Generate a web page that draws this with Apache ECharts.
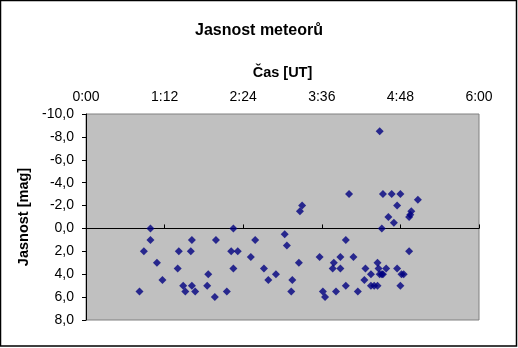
<!DOCTYPE html>
<html>
<head>
<meta charset="utf-8">
<script src="https://cdn.jsdelivr.net/npm/echarts@6/dist/echarts.min.js"></script>
<style>
html,body{margin:0;padding:0;background:#fff;}
#chart{width:518px;height:348px;}
</style>
</head>
<body>
<div id="chart"></div>
<script>
// Time of each meteor in minutes after 0:00 UT
var timeMin = [49,53,59,59,65,70,84,85,89,91,96,97,97,100,111,112,118,119,129,133,135,135,139,151,155,163,167,174,182,184,188,189,195,196,198,214,217,219,226,227,229,233,233,238,238,241,245,249,255,256,261,261,264,267,267,268,269,269,271,272,272,271,275,277,280,282,285,285,288,288,289,291,296,296,297,298,304];
// Brightness (magnitude)
var magnitude = [5.5,2,0,1,3,4.5,3.5,2,5,5.5,2,1,5,5.5,5,4,6,1,5.5,2,0,3.5,2,2.5,1,3.5,4.5,4,0.5,1.5,5.5,4.5,3,-1.5,-2,2.5,5.5,6,3.5,3,5.5,2.5,3.5,1,5,-3,2.5,5.5,4.5,3.5,4,5,5,5,3,3.5,-8.5,4,4,4,-3,0,3.5,-1,-3,-0.5,-2,3.5,-3,5,4,4,2,-1,-1.2,-1.5,-2.5];
var xTicks = ['0:00','1:12','2:24','3:36','4:48','6:00'];

var pts = timeMin.map(function(t,i){return [t, magnitude[i]];});
var font = 'Liberation Sans, Arial, sans-serif';
var chart = echarts.init(document.getElementById('chart'));
chart.setOption({
  animation:false,
  backgroundColor:'#ffffff',
  title:{text:'Jasnost meteorů',left:'center',top:18,textStyle:{fontFamily:font,fontSize:16,fontWeight:'bold',color:'#000'}},
  grid:{left:86,top:114,width:393,height:206,show:true,backgroundColor:'#c0c0c0',borderColor:'#808080',borderWidth:1},
  xAxis:{type:'value',position:'top',min:0,max:360,interval:72,
    name:'Čas [UT]',nameLocation:'middle',nameGap:34,
    nameTextStyle:{fontFamily:font,fontSize:14.5,fontWeight:'bold',color:'#000'},
    axisLine:{show:true,lineStyle:{color:'#000',width:1}},
    axisTick:{show:true,inside:false,length:4,lineStyle:{color:'#000'}},
    splitLine:{show:false},
    axisLabel:{fontFamily:font,fontSize:14,color:'#000',margin:10,
      formatter:function(v){var i=Math.round(v/72);return xTicks[i]||'';}}
  },
  yAxis:{type:'value',inverse:true,min:-10,max:8,interval:2,
    name:'Jasnost [mag]',nameLocation:'middle',nameGap:47,nameRotate:90,
    nameTextStyle:{fontFamily:font,fontSize:14.5,fontWeight:'bold',color:'#000'},
    axisLine:{show:true,lineStyle:{color:'#000',width:1}},
    axisTick:{show:true,inside:false,length:4,lineStyle:{color:'#000'}},
    splitLine:{show:false},
    axisLabel:{fontFamily:font,fontSize:14,color:'#000',margin:12,
      formatter:function(v){return v.toFixed(1).replace('.',',');}}
  },
  graphic:[{type:'rect',shape:{x:0.5,y:0.5,width:516,height:345.5},style:{fill:'none',stroke:'#000',lineWidth:1.5},silent:true}],
  series:[{type:'scatter',data:pts,symbol:'diamond',symbolSize:8,itemStyle:{color:'#000080'}}]
});
</script>
</body>
</html>
